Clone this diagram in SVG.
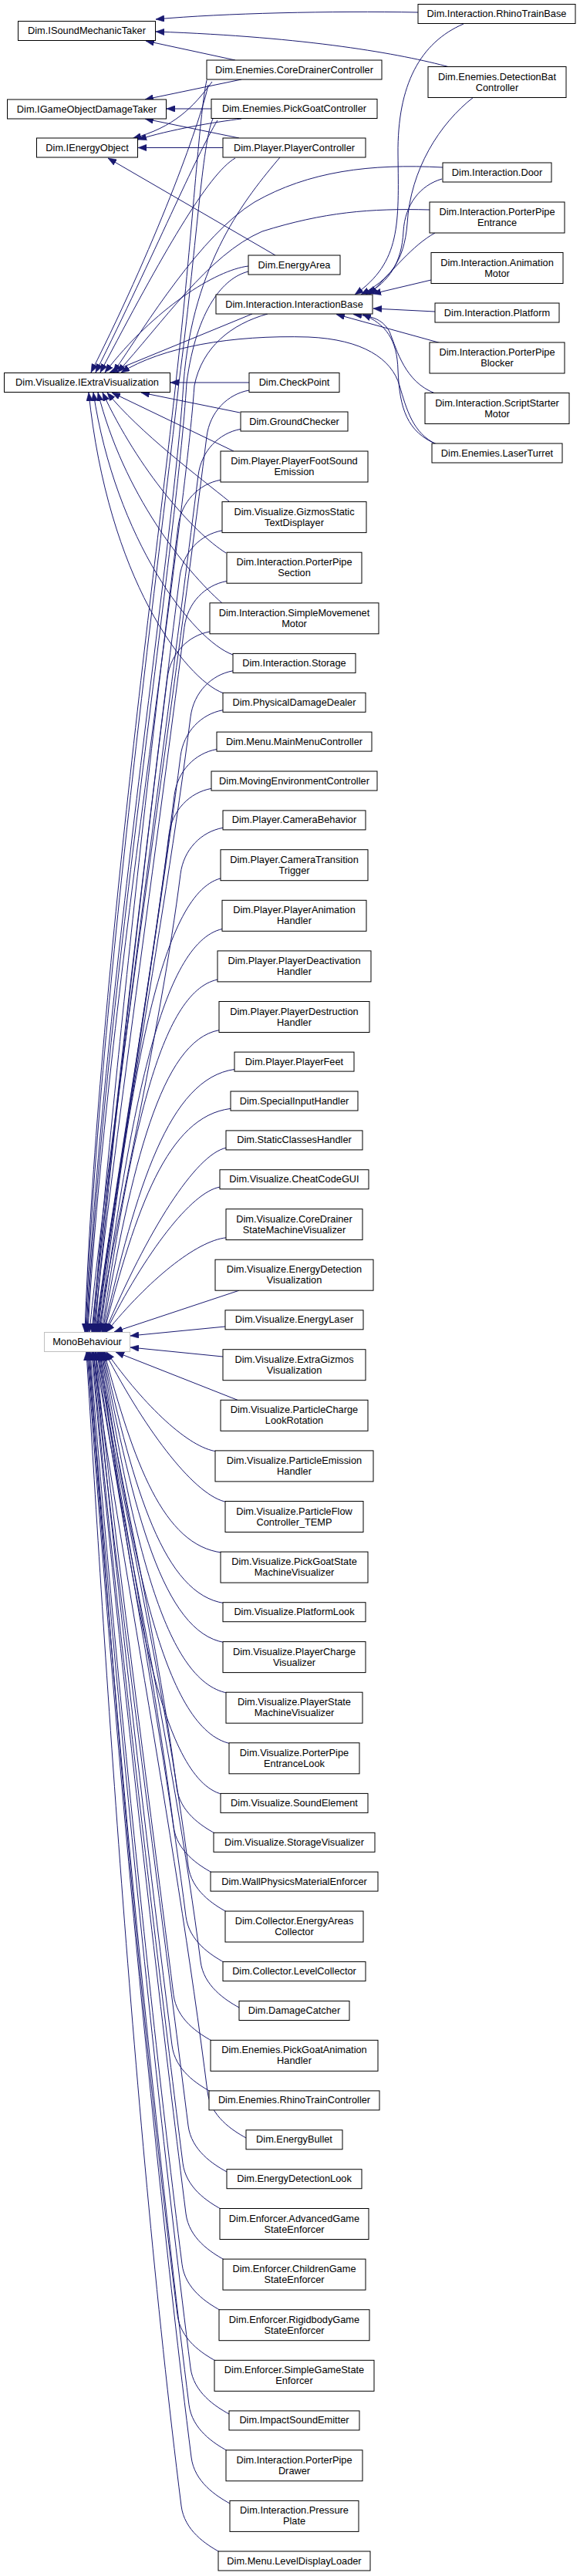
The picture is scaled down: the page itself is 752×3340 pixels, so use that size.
<svg xmlns="http://www.w3.org/2000/svg" width="752" height="3340" viewBox="0 0 752 3340">
<style>
.node rect{fill:#fff;stroke:#000;stroke-width:1}
.ext rect{stroke:#bfbfbf}
text{font-family:"Liberation Sans",Arial,Helvetica,sans-serif;font-size:12.8px;fill:#000;text-anchor:middle}
#edges path{fill:none;stroke:#191970;stroke-width:1;marker-end:url(#ah)}
</style>
<defs>
<marker id="ah" viewBox="0 0 11 8.5" refX="11" refY="4.25" markerWidth="11" markerHeight="8.5" markerUnits="userSpaceOnUse" orient="auto"><path d="M0,0L11,4.25L0,8.5z" fill="#191970" stroke="#191970" stroke-width="0.5"/></marker>
</defs>
<rect width="752" height="3340" fill="#fff"/>
<g id="edges">
<!-- ISoundMechanicTaker -->
<path d="M542,16 C430,14 290,17 202,25"/>
<path d="M583,87 C520,70 400,48 202,41"/>
<path d="M305,78 L189,53"/>
<!-- IGameObjectDamageTaker -->
<path d="M313,103 L188,129"/>
<path d="M274,141 L216,141"/>
<path d="M310,179 L188,154"/>
<!-- IEnergyObject -->
<path d="M275,106 C250,140 225,165 172,179.5"/>
<path d="M313,154 C280,158 220,168 179,181"/>
<path d="M289,191.5 L179,191.5"/>
<path d="M357,331 L140,205"/>
<!-- InteractionBase -->
<path d="M601,31 C545,55 515,110 516,200 C517,290 520,340 460,382"/>
<path d="M614,126 C570,160 532,220 528,290 C524,340 505,362 468,382"/>
<path d="M573,232 C545,240 525,265 523,300 C521,340 505,365 474,382"/>
<path d="M564,302 C535,318 510,350 479,382"/>
<path d="M559,363 L483,381"/>
<path d="M564,404 L484,400"/>
<path d="M572,445 L436,407.5"/>
<path d="M564,510 C525,495 515,455 505,430 C495,412 480,410 458,407.5"/>
<path d="M566,576 C528,560 518,530 516,480 C515,440 500,420 470,407.5"/>
<!-- IExtraVisualization top/right -->
<path d="M270,110 C262,150 210,300 118,483"/>
<path d="M282,156 C255,200 200,330 124,483"/>
<path d="M305,205 C270,225 210,330 130,483"/>
<path d="M322,345 C280,350 200,400 136,483"/>
<path d="M327,407 L142,483"/>
<path d="M574,217 C480,212 400,222 330,262 C260,305 190,420 147,483"/>
<path d="M557,272 C480,270 420,275 340,300 C270,330 210,420 152,483"/>
<path d="M566,576 C535,562 527,530 518,500 C508,465 470,440 400,437 C300,434 210,450 157,483"/>
<path d="M323,496 L221,496"/>
<!-- IExtraVisualization bottom -->
<path d="M311,535 L183,509"/>
<path d="M303,585 L145,509"/>
<path d="M297,650 C260,620 180,560 139,509"/>
<path d="M293,717 C250,690 180,610 133,509"/>
<path d="M288,782 C240,740 160,640 127,509"/>
<path d="M302,849 C250,830 150,700 121,509"/>
<path d="M289,898.5 C240,880 140,750 115,509"/>
<!-- MonoBehaviour from above -->
<path d="M268,104 C258,150 250,300 228,496 C206,700 125,1300 110,1727"/>
<path d="M276,154 C262,185 255,320 232,496 C210,700 127,1310 111,1727"/>
<path d="M363,204 C320,255 250,340 238,496 C226,700 130,1320 112,1727"/>
<path d="M322,352 C290,360 255,400 242,496 C230,700 132,1330 113,1727"/>
<path d="M347,407 C300,420 262,450 252,500 C238,700 134,1340 114,1727"/>
<path d="M323,506 c-28,5 -51,28 -55,60 C216.9,972.4 138.8,1494.8 116,1727"/>
<path d="M312,556.4 c-28,5 -51,28 -55,60 C208.1,1005.1 139.7,1504.9 119,1727"/>
<path d="M286,622.3 c-28,5 -51,28 -55,60 C185,1047.9 136.7,1518.1 120,1727"/>
<path d="M288,687.9 c-28,5 -51,28 -55,60 C189.9,1090.6 137.8,1531.2 121,1727"/>
<path d="M294,753.5 c-28,5 -51,28 -55,60 C198.8,1133.2 139.6,1544.3 122,1727"/>
<path d="M272,819 c-28,5 -51,28 -55,60 C179.7,1175.8 137.1,1557.4 123,1727"/>
<path d="M302,869.8 c-28,5 -51,28 -55,60 C211.9,1208.8 142.5,1567.6 124,1727"/>
<path d="M289,920.7 c-28,5 -51,28 -55,60 C201.2,1241.9 141.4,1577.7 125,1727"/>
<path d="M281,971.5 c-28,5 -51,28 -55,60 C195.4,1274.9 141,1587.9 126,1727"/>
<path d="M274,1022.4 c-28,5 -51,28 -55,60 C190.6,1308 140.8,1598.1 127,1727"/>
<path d="M289,1073.3 c-28,5 -51,28 -55,60 C207.9,1341.1 143.9,1608.3 128,1727"/>
<path d="M286,1138.9 C207.5,1159.5 168.3,1403.5 129,1727"/>
<path d="M288,1204.5 C209,1222.8 169.5,1439.6 130,1727"/>
<path d="M282,1270.1 C207,1286.1 169.5,1475.7 132,1727"/>
<path d="M284,1335.7 C208.5,1349.4 170.8,1511.8 133,1727"/>
<path d="M304,1386.5 C219,1398.4 176.5,1539.7 134,1727"/>
<path d="M299,1437.4 C217,1447.5 176,1567.7 135,1727"/>
<path d="M293,1488.3 C253.7,1496.7 191,1595.7 136,1727"/>
<path d="M285,1539.1 C248,1545.7 188.8,1623.7 137,1727"/>
<path d="M293,1604.8 C254.3,1609.1 192.3,1659.8 138,1727"/>
<path d="M310,1673.2 L148,1727"/>
<!-- MonoBehaviour side -->
<path d="M292,1720 L169,1732"/>
<path d="M289,1759 L169,1747"/>
<!-- MonoBehaviour from below -->
<path d="M308,1815.3 L150,1753"/>
<path d="M281,1881.9 C245.2,1877.4 188,1823.9 138,1753"/>
<path d="M294,1947.5 C254.5,1940.7 191.3,1860 136,1753"/>
<path d="M288,2013.1 C211.5,2004 173.3,1896 135,1753"/>
<path d="M291,2078.7 C212.5,2067.3 173.3,1932.1 134,1753"/>
<path d="M291,2129.6 C212,2116.4 172.5,1960.1 133,1753"/>
<path d="M295,2195.2 C213.5,2179.7 172.8,1996.2 132,1753"/>
<path d="M299,2260.8 C215,2243 173,2032.3 131,1753"/>
<path d="M288,2326.4 C209,2306.3 169.5,2068.4 130,1753"/>
<path d="M279,2377.3 c-18,-10 -46,-28 -50,-60 C204.2,2119.8 144,1865.9 129,1753"/>
<path d="M275,2428.1 c-18,-10 -46,-28 -50,-60 C197.9,2152.8 142.6,1876 128,1753"/>
<path d="M294,2479 c-18,-10 -46,-28 -50,-60 C214.7,2185.9 144.6,1886.2 127,1753"/>
<path d="M291,2544.6 c-18,-10 -46,-28 -50,-60 C208.8,2228.5 143.3,1899.3 126,1753"/>
<path d="M310,2603 c-18,-10 -46,-28 -50,-60 C225.2,2266.5 144.4,1911 124,1753"/>
<path d="M275,2646.3 c-18,-10 -46,-28 -50,-60 C188.3,2294.6 139.2,1919.7 124,1753"/>
<path d="M273,2711.9 c-18,-10 -46,-28 -50,-60 C183.4,2337.3 138,1932.8 123,1753"/>
<path d="M319,2772 c-18,-10 -46,-28 -50,-60 C226.8,2376.3 143.2,1944.8 121,1753"/>
<path d="M294,2816 c-18,-10 -46,-28 -50,-60 C199.9,2405 139.5,1953.6 121,1753"/>
<path d="M287,2864.5 c-18,-10 -46,-28 -50,-60 C190.7,2436.5 137.6,1963.3 120,1753"/>
<path d="M291,2930.1 c-18,-10 -46,-28 -50,-60 C191.8,2479.1 137.3,1976.4 119,1753"/>
<path d="M286,2995.7 c-18,-10 -46,-28 -50,-60 C184,2521.8 134.9,1989.5 117,1753"/>
<path d="M280,3061.3 c-18,-10 -46,-28 -50,-60 C175.1,2564.4 133.1,2002.7 116,1753"/>
<path d="M297,3130 c-18,-10 -46,-28 -50,-60 C189.1,2609 134.8,2016.4 115,1753"/>
<path d="M295,3177.8 c-18,-10 -46,-28 -50,-60 C185,2640.1 133.7,2026 114,1753"/>
<path d="M298,3246 c-18,-10 -46,-28 -50,-60 C185,2684.4 133.3,2039.6 113,1753"/>
<path d="M285,3309 c-18,-10 -46,-28 -50,-60 C169.2,2725.4 130.5,2052.2 112,1753"/>
</g>
<!-- base nodes -->
<g id="n-isound" class="node"><rect x="23.5" y="27.5" width="178" height="25"/><text x="112.5" y="44">Dim.ISoundMechanicTaker</text></g>
<g id="n-igodt" class="node"><rect x="9.5" y="129" width="206" height="25"/><text x="112.5" y="145.5">Dim.IGameObjectDamageTaker</text></g>
<g id="n-ienergy" class="node"><rect x="47.5" y="179" width="131" height="25"/><text x="113" y="195.5">Dim.IEnergyObject</text></g>
<g id="n-iev" class="node"><rect x="5.5" y="483.5" width="215" height="25"/><text x="113" y="500">Dim.Visualize.IExtraVisualization</text></g>
<g id="n-mono" class="node ext"><rect x="57.5" y="1727.5" width="111" height="25"/><text x="113" y="1744">MonoBehaviour</text></g>
<!-- middle column -->
<g id="n-coredrainer" class="node"><rect x="268" y="78" width="227" height="25"/><text x="381.5" y="94.5">Dim.Enemies.CoreDrainerController</text></g>
<g id="n-pickgoat" class="node"><rect x="274" y="128.5" width="215" height="25"/><text x="381.5" y="145">Dim.Enemies.PickGoatController</text></g>
<g id="n-playerctrl" class="node"><rect x="289" y="179" width="185" height="25"/><text x="381.5" y="195.5">Dim.Player.PlayerController</text></g>
<g id="n-energyarea" class="node"><rect x="322" y="331" width="119" height="25"/><text x="381.5" y="347.5">Dim.EnergyArea</text></g>
<g id="n-interactionbase" class="node"><rect x="280" y="382" width="203" height="25"/><text x="381.5" y="398.5">Dim.Interaction.InteractionBase</text></g>
<g id="n-checkpoint" class="node"><rect x="323" y="483.5" width="117" height="25"/><text x="381.5" y="500">Dim.CheckPoint</text></g>
<g id="n-groundchecker" class="node"><rect x="312" y="534" width="139" height="25"/><text x="381.5" y="550.5">Dim.GroundChecker</text></g>
<g id="n-footsound" class="node"><rect x="286" y="585" width="191" height="40"/><text x="381.5" y="602">Dim.Player.PlayerFootSound</text><text x="381.5" y="616">Emission</text></g>
<g id="n-gizmos" class="node"><rect x="288" y="650.6" width="187" height="40"/><text x="381.5" y="667.6">Dim.Visualize.GizmosStatic</text><text x="381.5" y="681.6">TextDisplayer</text></g>
<g id="n-ppsection" class="node"><rect x="294" y="716.2" width="175" height="40"/><text x="381.5" y="733.2">Dim.Interaction.PorterPipe</text><text x="381.5" y="747.2">Section</text></g>
<g id="n-simplemove" class="node"><rect x="272" y="781.8" width="219" height="40"/><text x="381.5" y="798.8">Dim.Interaction.SimpleMovemenet</text><text x="381.5" y="812.8">Motor</text></g>
<g id="n-storage" class="node"><rect x="302" y="847.4" width="159" height="25"/><text x="381.5" y="863.9">Dim.Interaction.Storage</text></g>
<g id="n-pdd" class="node"><rect x="289" y="898.3" width="185" height="25"/><text x="381.5" y="914.8">Dim.PhysicalDamageDealer</text></g>
<g id="n-mainmenu" class="node"><rect x="281" y="949.1" width="201" height="25"/><text x="381.5" y="965.6">Dim.Menu.MainMenuController</text></g>
<g id="n-movingenv" class="node"><rect x="274" y="1000" width="215" height="25"/><text x="381.5" y="1016.5">Dim.MovingEnvironmentController</text></g>
<g id="n-camerabeh" class="node"><rect x="289" y="1050.9" width="185" height="25"/><text x="381.5" y="1067.4">Dim.Player.CameraBehavior</text></g>
<g id="n-camtrans" class="node"><rect x="286" y="1101.7" width="191" height="40"/><text x="381.5" y="1118.7">Dim.Player.CameraTransition</text><text x="381.5" y="1132.7">Trigger</text></g>
<g id="n-playeranim" class="node"><rect x="288" y="1167.3" width="187" height="40"/><text x="381.5" y="1184.3">Dim.Player.PlayerAnimation</text><text x="381.5" y="1198.3">Handler</text></g>
<g id="n-playerdeact" class="node"><rect x="282" y="1232.9" width="199" height="40"/><text x="381.5" y="1249.9">Dim.Player.PlayerDeactivation</text><text x="381.5" y="1263.9">Handler</text></g>
<g id="n-playerdestr" class="node"><rect x="284" y="1298.5" width="195" height="40"/><text x="381.5" y="1315.5">Dim.Player.PlayerDestruction</text><text x="381.5" y="1329.5">Handler</text></g>
<g id="n-playerfeet" class="node"><rect x="304" y="1364.1" width="155" height="25"/><text x="381.5" y="1380.6">Dim.Player.PlayerFeet</text></g>
<g id="n-specialinput" class="node"><rect x="299" y="1415" width="165" height="25"/><text x="381.5" y="1431.5">Dim.SpecialInputHandler</text></g>
<g id="n-staticclasses" class="node"><rect x="293" y="1465.9" width="177" height="25"/><text x="381.5" y="1482.4">Dim.StaticClassesHandler</text></g>
<g id="n-cheatcode" class="node"><rect x="285" y="1516.7" width="193" height="25"/><text x="381.5" y="1533.2">Dim.Visualize.CheatCodeGUI</text></g>
<g id="n-cdsmv" class="node"><rect x="293" y="1567.6" width="177" height="40"/><text x="381.5" y="1584.6">Dim.Visualize.CoreDrainer</text><text x="381.5" y="1598.6">StateMachineVisualizer</text></g>
<g id="n-edvis" class="node"><rect x="279" y="1633.2" width="205" height="40"/><text x="381.5" y="1650.2">Dim.Visualize.EnergyDetection</text><text x="381.5" y="1664.2">Visualization</text></g>
<g id="n-energylaser" class="node"><rect x="292" y="1698.8" width="179" height="25"/><text x="381.5" y="1715.3">Dim.Visualize.EnergyLaser</text></g>
<g id="n-extragizmos" class="node"><rect x="289" y="1749.7" width="185" height="40"/><text x="381.5" y="1766.7">Dim.Visualize.ExtraGizmos</text><text x="381.5" y="1780.7">Visualization</text></g>
<g id="n-particlecharge" class="node"><rect x="286" y="1815.3" width="191" height="40"/><text x="381.5" y="1832.3">Dim.Visualize.ParticleCharge</text><text x="381.5" y="1846.3">LookRotation</text></g>
<g id="n-particleemission" class="node"><rect x="279" y="1880.9" width="205" height="40"/><text x="381.5" y="1897.9">Dim.Visualize.ParticleEmission</text><text x="381.5" y="1911.9">Handler</text></g>
<g id="n-particleflow" class="node"><rect x="292" y="1946.5" width="179" height="40"/><text x="381.5" y="1963.5">Dim.Visualize.ParticleFlow</text><text x="381.5" y="1977.5">Controller_TEMP</text></g>
<g id="n-pickgoatstate" class="node"><rect x="286" y="2012.1" width="191" height="40"/><text x="381.5" y="2029.1">Dim.Visualize.PickGoatState</text><text x="381.5" y="2043.1">MachineVisualizer</text></g>
<g id="n-platformlook" class="node"><rect x="289" y="2077.7" width="185" height="25"/><text x="381.5" y="2094.2">Dim.Visualize.PlatformLook</text></g>
<g id="n-playercharge" class="node"><rect x="289" y="2128.6" width="185" height="40"/><text x="381.5" y="2145.6">Dim.Visualize.PlayerCharge</text><text x="381.5" y="2159.6">Visualizer</text></g>
<g id="n-playerstate" class="node"><rect x="293" y="2194.2" width="177" height="40"/><text x="381.5" y="2211.2">Dim.Visualize.PlayerState</text><text x="381.5" y="2225.2">MachineVisualizer</text></g>
<g id="n-ppentrancelook" class="node"><rect x="297" y="2259.8" width="169" height="40"/><text x="381.5" y="2276.8">Dim.Visualize.PorterPipe</text><text x="381.5" y="2290.8">EntranceLook</text></g>
<g id="n-soundelement" class="node"><rect x="286" y="2325.4" width="191" height="25"/><text x="381.5" y="2341.9">Dim.Visualize.SoundElement</text></g>
<g id="n-storagevis" class="node"><rect x="277" y="2376.3" width="209" height="25"/><text x="381.5" y="2392.8">Dim.Visualize.StorageVisualizer</text></g>
<g id="n-wallphysics" class="node"><rect x="273" y="2427.1" width="217" height="25"/><text x="381.5" y="2443.6">Dim.WallPhysicsMaterialEnforcer</text></g>
<g id="n-energyareascoll" class="node"><rect x="292" y="2478" width="179" height="40"/><text x="381.5" y="2495">Dim.Collector.EnergyAreas</text><text x="381.5" y="2509">Collector</text></g>
<g id="n-levelcoll" class="node"><rect x="289" y="2543.6" width="185" height="25"/><text x="381.5" y="2560.1">Dim.Collector.LevelCollector</text></g>
<g id="n-damagecatcher" class="node"><rect x="310" y="2594.5" width="143" height="25"/><text x="381.5" y="2611">Dim.DamageCatcher</text></g>
<g id="n-pickgoatanim" class="node"><rect x="273" y="2645.3" width="217" height="40"/><text x="381.5" y="2662.3">Dim.Enemies.PickGoatAnimation</text><text x="381.5" y="2676.3">Handler</text></g>
<g id="n-rhinotrainctrl" class="node"><rect x="271" y="2710.9" width="221" height="25"/><text x="381.5" y="2727.4">Dim.Enemies.RhinoTrainController</text></g>
<g id="n-energybullet" class="node"><rect x="319" y="2761.8" width="125" height="25"/><text x="381.5" y="2778.3">Dim.EnergyBullet</text></g>
<g id="n-edlook" class="node"><rect x="294" y="2812.7" width="175" height="25"/><text x="381.5" y="2829.2">Dim.EnergyDetectionLook</text></g>
<g id="n-advanced" class="node"><rect x="285" y="2863.5" width="193" height="40"/><text x="381.5" y="2880.5">Dim.Enforcer.AdvancedGame</text><text x="381.5" y="2894.5">StateEnforcer</text></g>
<g id="n-children" class="node"><rect x="289" y="2929.1" width="185" height="40"/><text x="381.5" y="2946.1">Dim.Enforcer.ChildrenGame</text><text x="381.5" y="2960.1">StateEnforcer</text></g>
<g id="n-rigidbody" class="node"><rect x="284" y="2994.7" width="195" height="40"/><text x="381.5" y="3011.7">Dim.Enforcer.RigidbodyGame</text><text x="381.5" y="3025.7">StateEnforcer</text></g>
<g id="n-simplegs" class="node"><rect x="278" y="3060.3" width="207" height="40"/><text x="381.5" y="3077.3">Dim.Enforcer.SimpleGameState</text><text x="381.5" y="3091.3">Enforcer</text></g>
<g id="n-impactsound" class="node"><rect x="297" y="3125.9" width="169" height="25"/><text x="381.5" y="3142.4">Dim.ImpactSoundEmitter</text></g>
<g id="n-ppdrawer" class="node"><rect x="293" y="3176.8" width="177" height="40"/><text x="381.5" y="3193.8">Dim.Interaction.PorterPipe</text><text x="381.5" y="3207.8">Drawer</text></g>
<g id="n-pressureplate" class="node"><rect x="298" y="3242.4" width="167" height="40"/><text x="381.5" y="3259.4">Dim.Interaction.Pressure</text><text x="381.5" y="3273.4">Plate</text></g>
<g id="n-leveldisplay" class="node"><rect x="283" y="3308" width="197" height="25"/><text x="381.5" y="3324.5">Dim.Menu.LevelDisplayLoader</text></g>
<!-- right column -->
<g id="n-rhinotrainbase" class="node"><rect x="542" y="5.5" width="204" height="25"/><text x="644" y="22">Dim.Interaction.RhinoTrainBase</text></g>
<g id="n-detectionbat" class="node"><rect x="555" y="86.5" width="179" height="40"/><text x="644.5" y="103.5">Dim.Enemies.DetectionBat</text><text x="644.5" y="117.5">Controller</text></g>
<g id="n-door" class="node"><rect x="574" y="211" width="141" height="25"/><text x="644.5" y="227.5">Dim.Interaction.Door</text></g>
<g id="n-ppentrance" class="node"><rect x="557" y="262" width="175" height="40"/><text x="644.5" y="279">Dim.Interaction.PorterPipe</text><text x="644.5" y="293">Entrance</text></g>
<g id="n-animmotor" class="node"><rect x="559" y="327.5" width="171" height="40"/><text x="644.5" y="344.5">Dim.Interaction.Animation</text><text x="644.5" y="358.5">Motor</text></g>
<g id="n-platform" class="node"><rect x="564" y="393" width="161" height="25"/><text x="644.5" y="409.5">Dim.Interaction.Platform</text></g>
<g id="n-ppblocker" class="node"><rect x="557" y="444" width="175" height="40"/><text x="644.5" y="461">Dim.Interaction.PorterPipe</text><text x="644.5" y="475">Blocker</text></g>
<g id="n-scriptstarter" class="node"><rect x="551" y="509.5" width="187" height="40"/><text x="644.5" y="526.5">Dim.Interaction.ScriptStarter</text><text x="644.5" y="540.5">Motor</text></g>
<g id="n-laserturret" class="node"><rect x="560" y="575" width="169" height="25"/><text x="644.5" y="591.5">Dim.Enemies.LaserTurret</text></g>
</svg>
